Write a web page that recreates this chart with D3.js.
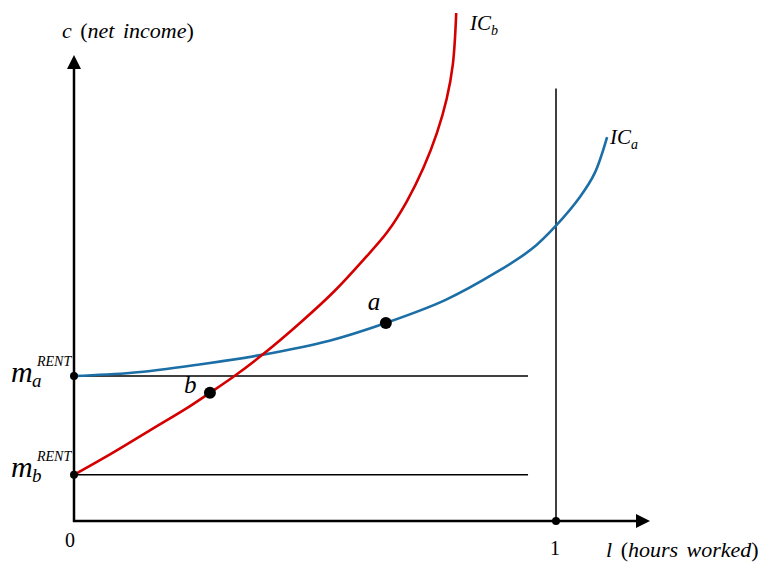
<!DOCTYPE html>
<html><head><meta charset="utf-8">
<script src="https://cdn.jsdelivr.net/npm/d3@7"></script>
<style>
body{margin:0;background:#fff;}
svg text{font-family:"Liberation Serif","DejaVu Serif",serif;}
</style></head>
<body><svg id="chart" width="771" height="567"></svg>
<script>
// Data (x = hours worked share, c = net income, arbitrary units)
const icbX = [0, 0.08, 0.16, 0.24, 0.282, 0.33, 0.39, 0.47, 0.54, 0.60, 0.65, 0.69, 0.725, 0.753, 0.773, 0.786, 0.793];
const icbC = [9.9, 14.6, 19.6, 24.6, 27.5, 30.9, 35.6, 42.6, 49.3, 56.0, 62.0, 68.5, 75.8, 83.3, 90.5, 98.0, 109.0];
const icaX = [0, 0.12, 0.26, 0.386, 0.53, 0.647, 0.77, 0.88, 0.95, 1.0, 1.05, 1.08, 1.106];
const icaC = [31.1, 31.8, 33.6, 35.6, 38.7, 42.5, 47.4, 53.6, 58.4, 63.4, 69.6, 74.6, 82.4];
const mA = 31.1, mB = 9.9;
const pointA = {x: 0.647, c: 42.5}, pointB = {x: 0.282, c: 27.5};
const xMaxAxis = 1.195, cMaxAxis = 100, rentLineEnd = 0.942, oneLineTop = 92.8;

const FONT = "'Liberation Serif', 'DejaVu Serif', serif";
const svg = d3.select("#chart");
const x = d3.scaleLinear().domain([0, 1]).range([74, 556]);
const y = d3.scaleLinear().domain([0, 100]).range([521, 55]);

const line = d3.line().x(d => x(d[0])).y(d => y(d[1])).curve(d3.curveCatmullRom.alpha(0.5));

function txt(px, py, size) {
  return svg.append("text").attr("x", px).attr("y", py).attr("font-size", size)
    .attr("font-family", FONT);
}

// rent lines
[mA, mB].forEach(m => {
  svg.append("line").attr("x1", x(0)).attr("x2", x(rentLineEnd)).attr("y1", y(m)).attr("y2", y(m))
    .attr("stroke", "#000").attr("stroke-width", 1.5);
});
// vertical at l=1
svg.append("line").attr("x1", x(1)).attr("x2", x(1)).attr("y1", y(oneLineTop)).attr("y2", y(0))
  .attr("stroke", "#000").attr("stroke-width", 1.5);

// axes
svg.append("line").attr("x1", x(0)).attr("x2", x(0)).attr("y1", y(0)+1).attr("y2", y(cMaxAxis)+12)
  .attr("stroke", "#000").attr("stroke-width", 2.5);
svg.append("line").attr("x1", x(0)-1).attr("x2", x(xMaxAxis)-12).attr("y1", y(0)).attr("y2", y(0))
  .attr("stroke", "#000").attr("stroke-width", 2.5);
svg.append("path").attr("d", `M${x(0)},${y(cMaxAxis)} L${x(0)-7},${y(cMaxAxis)+14} L${x(0)+7},${y(cMaxAxis)+14} Z`).attr("fill", "#000");
svg.append("path").attr("d", `M${x(xMaxAxis)},${y(0)} L${x(xMaxAxis)-14},${y(0)-7} L${x(xMaxAxis)-14},${y(0)+7} Z`).attr("fill", "#000");

// curves
svg.append("path").attr("d", line(icaX.map((v, i) => [v, icaC[i]]))).attr("fill", "none")
  .attr("stroke", "#1b6ea6").attr("stroke-width", 2.6);
svg.append("path").attr("d", line(icbX.map((v, i) => [v, icbC[i]]))).attr("fill", "none")
  .attr("stroke", "#d40000").attr("stroke-width", 2.6);

// dots
[[0, mA], [0, mB], [1, 0]].forEach(p => svg.append("circle").attr("cx", x(p[0])).attr("cy", y(p[1])).attr("r", 4).attr("fill", "#000"));
[pointA, pointB].forEach(p => svg.append("circle").attr("cx", x(p.x)).attr("cy", y(p.c)).attr("r", 6).attr("fill", "#000"));

// labels
const t1 = txt(62, 38, 22).attr("word-spacing", 3);
t1.append("tspan").attr("font-style", "italic").text("c");
t1.append("tspan").text(" (");
t1.append("tspan").attr("font-style", "italic").text("net income");
t1.append("tspan").text(")");

const t2 = txt(606, 557, 22).attr("word-spacing", 3);
t2.append("tspan").attr("font-style", "italic").text("l");
t2.append("tspan").text(" (");
t2.append("tspan").attr("font-style", "italic").text("hours worked");
t2.append("tspan").text(")");

txt(70, 547, 20).attr("text-anchor", "middle").text("0");
txt(555, 555, 20).attr("text-anchor", "middle").text("1");

function icLabel(px, py, sub) {
  const t = txt(px, py, 21).attr("font-style", "italic");
  t.append("tspan").text("IC");
  t.append("tspan").attr("font-size", 14).attr("dy", 5).text(sub);
}
icLabel(470, 30, "b");
icLabel(610, 144, "a");

function mLabel(px, py, sub) {
  txt(px, py, 30).attr("font-style", "italic").text("m");
  txt(px + 21, py + 5, 19).attr("font-style", "italic").text(sub);
  txt(px + 26, py - 16, 14).attr("font-style", "italic").text("RENT");
}
mLabel(11, y(mA) + 6, "a");
mLabel(11, y(mB) + 2, "b");

txt(x(pointA.x) - 18, y(pointA.c) - 13, 25).attr("font-style", "italic").text("a");
txt(x(pointB.x) - 26, y(pointB.c), 25).attr("font-style", "italic").text("b");
</script></body></html>
